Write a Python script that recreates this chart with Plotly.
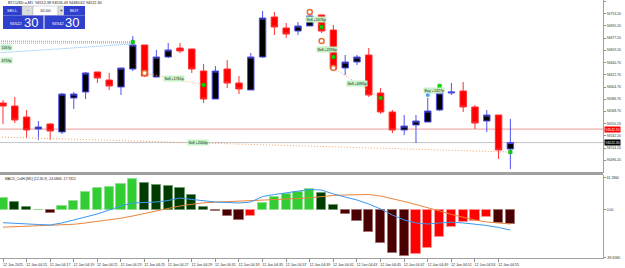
import plotly.graph_objects as go

# ---------------- data ----------------
opens = [94581.0, 94576.5, 94560.2, 94542.4, 94549.9, 94538.0, 94588.4, 94597.3, 94627.0, 94615.1,
         94604.7, 94631.4, 94667.0, 94619.5, 94649.2, 94662.5, 94661.1, 94628.4, 94586.9, 94631.4,
         94610.6, 94600.3, 94649.2, 94708.5, 94692.2, 94687.7, 94695.2, 94711.5, 94689.2, 94632.9,
         94641.8, 94652.2, 94595.8, 94567.7, 94541.0, 94548.4, 94552.8, 94570.6, 94595.8, 94598.8,
         94575.1, 94554.3, 94563.2, 94512.8]
highs = [94585.4, 94589.9, 94570.6, 94554.3, 94551.3, 94595.8, 94597.3, 94627.0, 94627.0, 94625.5,
         94632.9, 94680.3, 94667.0, 94659.6, 94670.0, 94670.0, 94661.1, 94638.8, 94635.9, 94644.7,
         94621.0, 94655.1, 94717.4, 94715.9, 94699.6, 94701.1, 94715.9, 94711.5, 94696.6, 94652.2,
         94652.2, 94662.5, 94603.2, 94570.6, 94563.2, 94563.2, 94592.9, 94600.3, 94610.6, 94612.1,
         94578.0, 94570.6, 94563.2, 94557.3]
lows = [94549.9, 94551.3, 94529.1, 94526.1, 94526.1, 94535.0, 94572.1, 94586.9, 94610.6, 94600.3,
        94592.9, 94628.4, 94619.5, 94619.5, 94647.7, 94655.1, 94625.5, 94581.0, 94586.9, 94603.2,
        94594.3, 94600.3, 94647.7, 94681.8, 94677.4, 94681.8, 94695.2, 94684.8, 94628.4, 94622.5,
        94637.3, 94589.9, 94564.7, 94536.5, 94533.5, 94521.7, 94552.8, 94569.1, 94592.9, 94567.7,
        94542.4, 94538.0, 94498.0, 94483.1]
closes = [94576.5, 94555.8, 94541.0, 94545.4, 94539.5, 94594.3, 94594.3, 94625.5, 94618.1, 94606.2,
          94632.9, 94667.0, 94621.0, 94649.2, 94659.6, 94658.1, 94631.4, 94586.9, 94628.4, 94610.6,
          94601.8, 94649.2, 94707.0, 94693.7, 94683.3, 94695.2, 94710.0, 94687.7, 94631.4, 94641.8,
          94649.2, 94592.9, 94567.7, 94541.0, 94546.9, 94554.3, 94569.1, 94595.8, 94597.3, 94575.1,
          94551.3, 94563.2, 94511.3, 94522.3]

hist = [22.5, 15.5, 6.2, 0.8, -5.1, 7.5, 16.9, 33.7, 41.2, 43.1,
        48.7, 58.1, 50.6, 46.8, 45.0, 41.2, 28.1, 5.6, -1.9, -10.7,
        -18.7, -10.7, 13.1, 24.9, 30.0, 34.3, 38.8, 32.4, 9.4, -8.1,
        -20.0, -40.6, -61.2, -80.0, -86.2, -82.4, -70.6, -50.0, -31.3, -21.9,
        -20.0, -12.5, -23.8, -26.8]
hist_kind = ["L", "D", "D", "L", "M", "L", "L", "L", "L", "L",
             "L", "L", "D", "D", "D", "D", "D", "D", "M", "M",
             "M", "R", "L", "L", "L", "L", "L", "D", "D", "M",
             "M", "M", "M", "M", "M", "R", "R", "R", "R", "R",
             "R", "R", "M", "M"]
macd_blue = [-23.8, -25.3, -26.2, -27.2, -28.1, -24.3, -18.7, -13.1, -7.5, 0.0,
             7.5, 13.1, 14.0, 15.0, 17.8, 22.5, 19.7, 16.9, 15.0, 14.0,
             13.1, 15.0, 25.3, 29.0, 31.8, 35.6, 38.4, 37.5, 30.0, 24.3,
             18.7, 11.2, 1.9, -9.4, -18.7, -24.3, -26.2, -24.3, -23.0, -24.3,
             -26.2, -29.0, -32.8, -37.5]
macd_orange = [-32.2, -31.5, -30.9, -30.3, -29.6, -28.7, -26.8, -24.3, -21.5, -18.7,
               -15.4, -11.2, -6.6, -1.9, 3.2, 7.5, 10.7, 13.5, 14.6, 15.4,
               16.3, 17.2, 18.4, 19.1, 20.2, 21.5, 23.0, 25.3, 27.2, 28.1,
               28.8, 29.0, 26.2, 21.5, 15.9, 10.3, 4.7, -1.9, -8.4, -14.0,
               -18.7, -22.5, -24.9, -26.2]

time_labels = ["12 Jan 2025", "12 Jan 04:15", "12 Jan 04:17", "12 Jan 04:19", "12 Jan 04:21",
               "12 Jan 04:23", "12 Jan 04:25", "12 Jan 04:27", "12 Jan 04:29", "12 Jan 04:31",
               "12 Jan 04:33", "12 Jan 04:35", "12 Jan 04:37", "12 Jan 04:39", "12 Jan 04:41",
               "12 Jan 04:43", "12 Jan 04:45", "12 Jan 04:47", "12 Jan 04:49", "12 Jan 04:51",
               "12 Jan 04:53", "12 Jan 04:55"]
price_ticks = [94731.20, 94713.20, 94695.20, 94677.20, 94659.20, 94640.70, 94622.70, 94604.70,
               94586.70, 94568.70, 94550.20, 94532.20, 94514.20, 94496.20, 94478.20]
macd_ticks = [61.2860, 0.0, -89.6580]
macd_tick_text = ["61.2860", "0.00", "-89.6580"]

bid = 94522.30
ask = 94542.30

# closed trades
trade_labels = ["Sell +1761p", "Sell +2076p", "Sell +2296p", "Sell +4395p", "Buy +1427p", "Sell +2000p"]
trade_side = ["sell", "sell", "sell", "sell", "buy", "sell"]
trade_in_idx = [12, 26, 27, 28, 36, -10]
trade_in_px = [94625.5, 94715.9, 94672.9, 94632.9, 94592.9, 94535.5]
trade_out_idx = [17, 27, 28, 32, 37, 43]
trade_out_px = [94607.7, 94693.7, 94649.2, 94588.4, 94606.2, 94508.3]

# older buy trades (entries left of the view) closed on bar 11
old_in_idx = [-20, -20, -20, -20]
old_in_px = [94676.0, 94673.5, 94669.0, 94632.7]
old_out_idx = [11, 11, 11, 11]
old_out_px = [94671.4, 94671.4, 94670.0, 94668.5]
old_labels = ["1167p", "4759p"]
old_label_px = [94664.0, 94644.7]

x = list(range(len(opens)))

# ---------------- figure ----------------
W, H = 603.0, 258.0   # plot area in px


def PX(px):
    return px / W


def PY(py):
    return 1 - py / H


fig = go.Figure()

fig.add_trace(go.Candlestick(
    x=x, open=opens, high=highs, low=lows, close=closes,
    increasing=dict(line=dict(color="#5050f0", width=1), fillcolor="#000000"),
    decreasing=dict(line=dict(color="#ff3030", width=1), fillcolor="#ff0000"),
    whiskerwidth=0, hoverinfo="skip", showlegend=False, xaxis="x", yaxis="y"))

# old buy dotted lines
for i in range(len(old_in_idx)):
    fig.add_trace(go.Scatter(x=[old_in_idx[i], old_out_idx[i]], y=[old_in_px[i], old_out_px[i]],
                             mode="lines", line=dict(color="#80b8f0", width=1, dash="1px,1px"),
                             hoverinfo="skip", showlegend=False, xaxis="x", yaxis="y"))

# trade lines
for i in range(len(trade_labels)):
    col = "#f4a060" if trade_side[i] == "sell" else "#80b0f0"
    fig.add_trace(go.Scatter(x=[trade_in_idx[i], trade_out_idx[i]], y=[trade_in_px[i], trade_out_px[i]],
                             mode="lines", line=dict(color=col, width=1, dash="1px,2px"),
                             hoverinfo="skip", showlegend=False, xaxis="x", yaxis="y"))

# entry markers
sell_x = [trade_in_idx[i] for i in range(len(trade_side)) if trade_side[i] == "sell"]
sell_y = [trade_in_px[i] for i in range(len(trade_side)) if trade_side[i] == "sell"]
buy_x = [trade_in_idx[i] for i in range(len(trade_side)) if trade_side[i] == "buy"]
buy_y = [trade_in_px[i] for i in range(len(trade_side)) if trade_side[i] == "buy"]
fig.add_trace(go.Scatter(x=sell_x, y=sell_y, mode="markers",
                         marker=dict(symbol="circle", size=5, color="#ffffff",
                                     line=dict(color="#e8703a", width=1.5)),
                         hoverinfo="skip", showlegend=False, xaxis="x", yaxis="y"))
fig.add_trace(go.Scatter(x=buy_x, y=buy_y, mode="markers",
                         marker=dict(symbol="circle", size=5, color="#4aa0f0",
                                     line=dict(color="#ffffff", width=1)),
                         hoverinfo="skip", showlegend=False, xaxis="x", yaxis="y"))
fig.add_trace(go.Scatter(x=trade_out_idx + [old_out_idx[0]], y=trade_out_px + [old_out_px[0]],
                         mode="markers",
                         marker=dict(symbol="square", size=3.5, color="#00e000",
                                     line=dict(color="#00a000", width=0.5)),
                         hoverinfo="skip", showlegend=False, xaxis="x", yaxis="y"))

# MACD histogram
kind_fill = {"L": "#32cd32", "D": "#003c00", "M": "#4a0000", "R": "#ff0000"}
kind_edge = {"L": "#8fe08f", "D": "#6f9a6f", "M": "#a07070", "R": "#ff9090"}
fig.add_trace(go.Bar(x=x, y=hist, width=0.78,
                     marker=dict(color=[kind_fill[k] for k in hist_kind],
                                 line=dict(color=[kind_edge[k] for k in hist_kind], width=1)),
                     hoverinfo="skip", showlegend=False, xaxis="x2", yaxis="y2"))
fig.add_trace(go.Scatter(x=x, y=macd_orange, mode="lines", line=dict(color="#e8843c", width=1),
                         hoverinfo="skip", showlegend=False, xaxis="x2", yaxis="y2"))
fig.add_trace(go.Scatter(x=x, y=macd_blue, mode="lines", line=dict(color="#3a98f0", width=1),
                         hoverinfo="skip", showlegend=False, xaxis="x2", yaxis="y2"))

xr = [-0.254, 50.85]
FONT = "Liberation Sans"
shapes = []
annotations = []

# price lines
shapes.append(dict(type="line", xref="paper", x0=0, x1=1, yref="y", y0=ask, y1=ask,
                   line=dict(color="#f09a9a", width=1), layer="below"))
shapes.append(dict(type="line", xref="paper", x0=0, x1=1, yref="y", y0=bid, y1=bid,
                   line=dict(color="#c4c4cc", width=1), layer="below"))
# separator between panels
shapes.append(dict(type="rect", xref="paper", yref="paper", x0=0, x1=1.0,
                   y0=PY(175), y1=PY(172), fillcolor="#a0a0a0", line=dict(width=0)))

annotations.append(dict(xref="paper", yref="y", x=1, y=ask, xanchor="left", xshift=1,
                        text="94542.30", showarrow=False, bgcolor="#ff0000", borderpad=0.5,
                        font=dict(size=3.4, color="white", family=FONT)))
annotations.append(dict(xref="paper", yref="y", x=1, y=bid, xanchor="left", xshift=1,
                        text="94522.30", showarrow=False, bgcolor="#000000", borderpad=0.5,
                        font=dict(size=3.4, color="white", family=FONT)))

# trade labels
for i in range(len(trade_labels)):
    annotations.append(dict(xref="x", yref="y",
                            x=(trade_in_idx[i] + trade_out_idx[i]) / 2,
                            y=(trade_in_px[i] + trade_out_px[i]) / 2,
                            text=trade_labels[i], showarrow=False, bgcolor="#c4f2c4",
                            borderpad=0.6, font=dict(size=3.6, color="#202020", family=FONT)))
for i in range(len(old_labels)):
    annotations.append(dict(xref="paper", yref="y", x=0, y=old_label_px[i], xanchor="left",
                            text=old_labels[i], showarrow=False, bgcolor="#c4f2c4",
                            borderpad=0.6, font=dict(size=3.6, color="#202020", family=FONT)))

# chart titles
annotations.append(dict(xref="paper", yref="paper", x=PX(6), y=PY(3), xanchor="left", yanchor="middle",
                        text="BTCUSD.a,M1  94512.38 94556.43 94480.62 94522.30", showarrow=False,
                        font=dict(size=3.8, color="#202020", family=FONT)))
annotations.append(dict(xref="paper", yref="paper", x=PX(3), y=PY(178.5), xanchor="left", yanchor="middle",
                        text="MACD_ColHi [M1] (12,26,9) -24.0846 -17.7612", showarrow=False,
                        font=dict(size=3.4, color="#202020", family=FONT)))

# one-click trading panel
BLUE = "#2f40cc"


def rect(x0, y0, x1, y1, fill, line="rgba(0,0,0,0)"):
    shapes.append(dict(type="rect", xref="paper", yref="paper", x0=PX(x0), x1=PX(x1),
                       y0=PY(y1), y1=PY(y0), fillcolor=fill, line=dict(color=line, width=0.5)))


def text(xp, yp, t, size, color, anchor="center"):
    annotations.append(dict(xref="paper", yref="paper", x=PX(xp), y=PY(yp), xanchor=anchor,
                            yanchor="middle", text=t, showarrow=False,
                            font=dict(size=size, color=color, family=FONT)))


rect(3, 6, 22, 15.5, BLUE)
rect(22, 6, 33, 15.5, "#dcdcdc", "#b0b0b0")
rect(33, 6, 58, 15.5, "#ffffff", "#b0b0b0")
rect(58, 6, 64, 15.5, "#dcdcdc", "#b0b0b0")
rect(64, 6, 85, 15.5, BLUE)
rect(3, 15.5, 43.5, 29, BLUE)
rect(44.5, 15.5, 85, 29, BLUE)
text(12.5, 10.8, "SELL", 4.2, "white")
text(27.5, 10.8, "-", 4.5, "#202020")
text(45.5, 10.8, "10.00", 4.2, "#202020")
text(61, 10.8, "+", 4.5, "#202020")
text(74.5, 10.8, "BUY", 4.2, "white")
text(8, 24, "94522", 4.2, "white", "left")
text(21.5, 22, "30", 13, "white", "left")
text(49.5, 24, "94542", 4.2, "white", "left")
text(63, 22, "30", 13, "white", "left")

fig.update_layout(
    width=625, height=268, margin=dict(l=0, r=22, t=0, b=10),
    paper_bgcolor="white", plot_bgcolor="white", showlegend=False,
    boxgap=0.22, bargap=0, font=dict(family=FONT, size=4, color="#303030"),
    xaxis=dict(domain=[0, 1], anchor="y", range=xr, showticklabels=False, showgrid=False,
               zeroline=False, showline=True, mirror=True, linecolor="#a0a0a0", linewidth=1,
               rangeslider=dict(visible=False), fixedrange=True),
    xaxis2=dict(domain=[0, 1], anchor="y2", matches="x", range=xr, showgrid=False, zeroline=False,
                tickmode="array", tickvals=list(range(0, 44, 2)), ticktext=time_labels,
                ticks="outside", ticklen=3, tickcolor="#909090", ticklabelshift=10,
                tickfont=dict(size=3.6, color="#303030", family=FONT),
                showline=True, linecolor="#a0a0a0", linewidth=1, mirror=False),
    yaxis=dict(domain=[PY(172), 1], range=[94478.7, 94733.7], side="right", showgrid=False,
               zeroline=False, tickmode="array", tickvals=price_ticks,
               ticktext=["%.2f" % v for v in price_ticks], ticks="outside", ticklen=2,
               tickcolor="#909090", tickfont=dict(size=3.4, color="#303030", family=FONT),
               showline=True, mirror=True, linecolor="#a0a0a0", linewidth=1),
    yaxis2=dict(domain=[0, PY(175)], range=[-90.0, 65.6], side="right", showgrid=False,
                zeroline=False, tickmode="array", tickvals=macd_ticks, ticktext=macd_tick_text,
                ticks="outside", ticklen=2, tickcolor="#909090",
                tickfont=dict(size=3.4, color="#303030", family=FONT),
                showline=True, mirror=True, linecolor="#a0a0a0", linewidth=1),
    shapes=shapes, annotations=annotations,
)

fig.write_html("out.html")
